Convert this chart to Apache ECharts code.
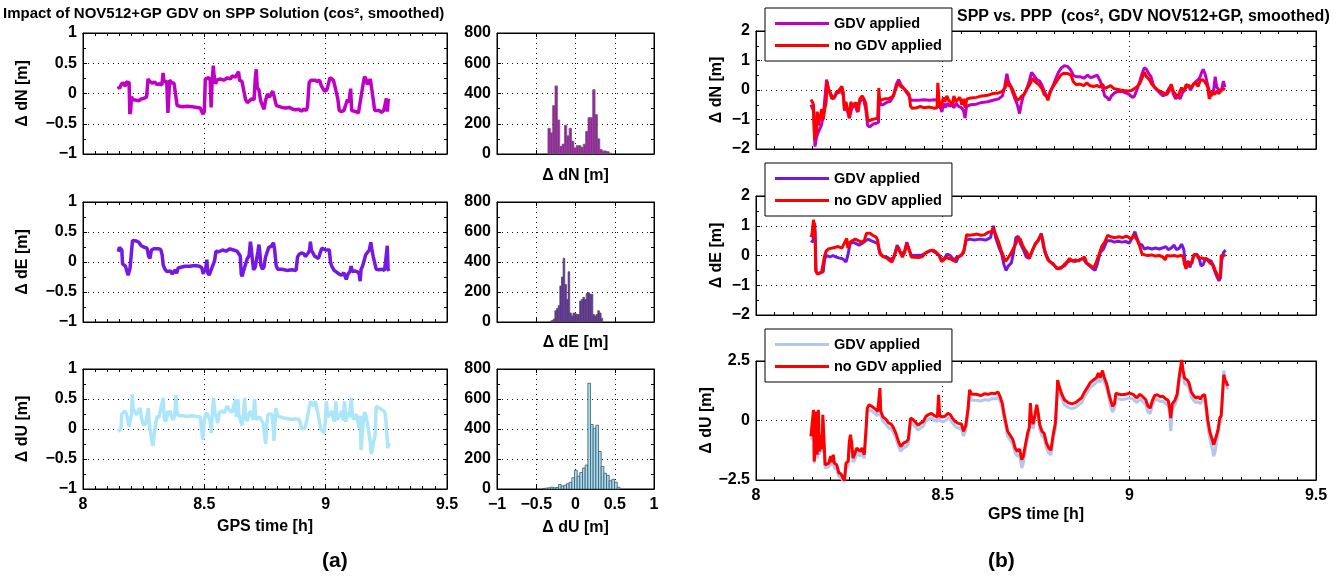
<!DOCTYPE html>
<html>
<head>
<meta charset="utf-8">
<script src="https://cdn.jsdelivr.net/npm/echarts@6/dist/echarts.min.js"></script>
<style>
  html, body { margin: 0; padding: 0; background: #fff; }
  #chart { width: 1343px; height: 580px; }
</style>
</head>
<body>
<div id="chart"></div>
<script>
// ---------------------------------------------------------------------------
// Data: GPS time [h] vs. coordinate difference [m]
// ---------------------------------------------------------------------------

// (a) impact of the GDV correction on the SPP solution
const impactN = [[8.145,0.12],[8.150,0.08],[8.155,0.13],[8.160,0.11],[8.163,0.18],[8.170,0.19],[8.175,0.12],[8.178,0.19],[8.185,0.2],[8.190,0.18],[8.193,-0.34],[8.196,-0.3],[8.200,-0.05],[8.204,-0.1],[8.210,-0.13],[8.220,-0.11],[8.230,-0.12],[8.240,-0.09],[8.250,-0.08],[8.258,-0.05],[8.262,-0.06],[8.268,0.24],[8.275,0.2],[8.285,0.17],[8.295,0.19],[8.304,0.15],[8.315,0.16],[8.325,0.14],[8.330,0.34],[8.334,0.2],[8.340,0.19],[8.345,0.2],[8.350,-0.32],[8.354,-0.3],[8.357,0.22],[8.365,0.18],[8.375,0.17],[8.382,0.18],[8.388,-0.2],[8.395,-0.21],[8.410,-0.22],[8.430,-0.21],[8.450,-0.22],[8.470,-0.23],[8.483,-0.24],[8.490,-0.26],[8.494,-0.34],[8.497,-0.37],[8.500,-0.3],[8.504,0.24],[8.512,0.22],[8.518,0.26],[8.524,0.22],[8.528,-0.23],[8.532,0.2],[8.537,0.46],[8.540,0.3],[8.546,0.16],[8.552,0.22],[8.565,0.24],[8.580,0.22],[8.595,0.26],[8.608,0.24],[8.615,0.29],[8.628,0.27],[8.636,0.26],[8.641,0.36],[8.645,0.22],[8.655,0.2],[8.663,0.18],[8.670,-0.1],[8.677,-0.15],[8.685,-0.16],[8.695,-0.09],[8.705,-0.1],[8.710,0.25],[8.714,0.4],[8.718,0.1],[8.725,0.06],[8.732,-0.12],[8.740,-0.13],[8.746,-0.26],[8.752,-0.12],[8.760,-0.01],[8.768,-0.06],[8.775,-0.07],[8.782,0.04],[8.790,0.03],[8.797,-0.2],[8.805,-0.22],[8.820,-0.23],[8.835,-0.24],[8.850,-0.23],[8.865,-0.26],[8.875,-0.27],[8.890,-0.26],[8.900,-0.29],[8.910,-0.26],[8.920,-0.28],[8.925,-0.22],[8.932,0.18],[8.940,0.22],[8.955,0.22],[8.965,0.2],[8.975,0.22],[8.982,0.13],[8.988,0.1],[8.995,0.04],[9.005,0.06],[9.012,0.03],[9.018,0.26],[9.025,0.25],[9.032,0.22],[9.038,0.2],[9.044,0.02],[9.050,-0.09],[9.056,-0.28],[9.065,-0.3],[9.075,-0.28],[9.083,-0.27],[9.090,-0.1],[9.096,-0.15],[9.103,0.08],[9.107,-0.28],[9.115,-0.31],[9.125,-0.3],[9.135,-0.32],[9.140,-0.3],[9.146,-0.05],[9.152,0.1],[9.160,0.28],[9.166,0.24],[9.172,0.15],[9.178,0.17],[9.184,0.24],[9.190,0.22],[9.196,-0.1],[9.202,-0.28],[9.210,-0.3],[9.220,-0.28],[9.230,-0.31],[9.240,-0.28],[9.247,-0.3],[9.250,-0.08],[9.254,-0.3],[9.258,-0.1],[9.262,-0.12]];

const impactE = [[8.145,0.17],[8.150,0.24],[8.155,0.22],[8.160,0.2],[8.163,-0.03],[8.168,-0.06],[8.175,-0.07],[8.182,-0.08],[8.186,-0.22],[8.190,-0.2],[8.194,-0.1],[8.200,-0.09],[8.204,0.36],[8.210,0.37],[8.220,0.35],[8.230,0.33],[8.240,0.27],[8.250,0.25],[8.258,0.28],[8.264,0.23],[8.270,0.1],[8.276,0.06],[8.282,0.2],[8.292,0.22],[8.300,0.2],[8.310,0.22],[8.320,0.21],[8.326,0.12],[8.331,-0.06],[8.338,-0.12],[8.345,-0.16],[8.352,-0.18],[8.360,-0.15],[8.368,-0.2],[8.374,-0.22],[8.380,-0.13],[8.386,-0.19],[8.392,-0.1],[8.400,-0.08],[8.420,-0.07],[8.440,-0.07],[8.460,-0.06],[8.480,-0.07],[8.490,-0.1],[8.496,-0.2],[8.500,-0.12],[8.505,-0.16],[8.510,0.04],[8.514,-0.18],[8.520,-0.22],[8.528,-0.13],[8.536,-0.14],[8.542,0.02],[8.548,0.18],[8.560,0.17],[8.575,0.2],[8.590,0.18],[8.605,0.22],[8.620,0.2],[8.635,0.18],[8.642,0.17],[8.648,0.1],[8.652,-0.2],[8.656,-0.24],[8.662,-0.14],[8.670,-0.12],[8.677,0.06],[8.684,0.1],[8.690,0.34],[8.694,0.2],[8.698,0.04],[8.703,-0.13],[8.710,-0.08],[8.716,-0.06],[8.721,0.18],[8.725,0.29],[8.729,0.15],[8.733,-0.06],[8.740,-0.12],[8.746,-0.08],[8.752,0.08],[8.758,0.1],[8.765,0.24],[8.775,0.26],[8.785,0.32],[8.790,0.2],[8.796,-0.06],[8.802,-0.12],[8.805,-0.13],[8.820,-0.12],[8.840,-0.14],[8.860,-0.13],[8.878,-0.14],[8.884,0.08],[8.891,0.13],[8.900,0.15],[8.910,0.14],[8.916,0.09],[8.922,0.1],[8.928,0.15],[8.934,0.2],[8.937,0.34],[8.941,0.2],[8.948,0.22],[8.954,0.1],[8.962,0.08],[8.970,0.06],[8.978,0.09],[8.984,0.23],[8.992,0.22],[9.000,0.2],[9.008,0.22],[9.015,0.2],[9.020,0.0],[9.025,-0.07],[9.035,-0.14],[9.045,-0.17],[9.055,-0.2],[9.065,-0.22],[9.075,-0.18],[9.085,-0.29],[9.092,-0.2],[9.100,-0.16],[9.105,-0.07],[9.110,-0.16],[9.120,-0.15],[9.130,-0.16],[9.138,-0.2],[9.142,-0.32],[9.146,-0.12],[9.152,-0.07],[9.160,-0.04],[9.165,0.12],[9.172,0.12],[9.180,0.2],[9.186,0.33],[9.190,0.22],[9.196,0.09],[9.202,0.08],[9.208,-0.12],[9.220,-0.13],[9.232,-0.12],[9.242,-0.14],[9.246,-0.03],[9.250,-0.02],[9.254,0.27],[9.257,-0.12],[9.261,-0.15]];

const impactU = [[8.145,-0.04],[8.152,-0.03],[8.156,0.0],[8.160,0.25],[8.166,0.28],[8.173,0.3],[8.180,0.24],[8.186,0.23],[8.190,0.04],[8.194,0.12],[8.200,0.25],[8.203,0.58],[8.206,0.35],[8.212,0.3],[8.220,0.24],[8.228,0.26],[8.235,0.35],[8.240,0.22],[8.246,0.1],[8.252,0.06],[8.258,0.1],[8.264,0.2],[8.269,0.35],[8.273,0.1],[8.278,-0.05],[8.283,-0.18],[8.288,-0.28],[8.293,-0.1],[8.300,0.1],[8.306,0.22],[8.312,0.18],[8.318,0.3],[8.326,0.28],[8.331,0.52],[8.334,0.2],[8.340,0.12],[8.346,0.2],[8.350,0.3],[8.355,0.25],[8.360,0.3],[8.365,0.2],[8.372,0.15],[8.378,0.22],[8.383,0.57],[8.387,0.3],[8.394,0.22],[8.410,0.22],[8.430,0.21],[8.450,0.22],[8.470,0.21],[8.483,0.2],[8.490,0.18],[8.494,-0.18],[8.498,0.05],[8.503,0.22],[8.510,0.27],[8.518,0.28],[8.524,0.14],[8.528,-0.07],[8.532,0.2],[8.538,0.52],[8.542,0.3],[8.548,0.22],[8.555,0.1],[8.562,0.28],[8.572,0.3],[8.582,0.27],[8.594,0.38],[8.605,0.3],[8.615,0.28],[8.622,0.25],[8.628,0.49],[8.632,0.2],[8.638,0.5],[8.642,0.25],[8.648,0.16],[8.655,0.06],[8.660,0.2],[8.666,0.52],[8.670,0.2],[8.677,0.13],[8.684,0.25],[8.690,0.3],[8.696,0.22],[8.702,0.15],[8.707,0.5],[8.712,0.16],[8.720,0.14],[8.728,0.2],[8.735,0.15],[8.742,0.1],[8.748,-0.1],[8.753,-0.25],[8.757,0.07],[8.762,0.24],[8.770,0.22],[8.778,0.25],[8.784,0.05],[8.787,-0.2],[8.791,0.1],[8.795,0.35],[8.802,0.22],[8.815,0.2],[8.830,0.18],[8.845,0.17],[8.860,0.16],[8.875,0.17],[8.890,0.16],[8.896,0.1],[8.900,0.0],[8.906,-0.02],[8.914,0.02],[8.920,0.1],[8.926,0.1],[8.932,0.35],[8.938,0.46],[8.946,0.44],[8.952,0.38],[8.958,0.46],[8.966,0.3],[8.974,0.13],[8.980,0.0],[8.988,-0.02],[8.994,-0.07],[8.998,0.1],[9.003,0.46],[9.008,0.2],[9.016,0.24],[9.024,0.3],[9.030,0.2],[9.036,0.12],[9.042,0.46],[9.047,0.15],[9.054,0.2],[9.060,0.24],[9.066,0.3],[9.072,0.14],[9.078,0.46],[9.083,0.12],[9.090,0.28],[9.098,0.2],[9.106,0.52],[9.110,0.2],[9.118,0.16],[9.126,0.25],[9.133,0.28],[9.138,0.02],[9.142,0.22],[9.146,-0.35],[9.150,-0.38],[9.154,0.1],[9.160,0.28],[9.166,0.22],[9.172,0.1],[9.178,-0.05],[9.183,-0.2],[9.188,-0.42],[9.192,-0.35],[9.198,-0.2],[9.204,-0.1],[9.208,0.38],[9.213,0.4],[9.220,0.35],[9.230,0.33],[9.238,0.3],[9.244,0.28],[9.248,0.15],[9.252,0.16],[9.256,-0.32],[9.260,-0.25],[9.263,-0.28]];

// Histograms of the differences: first bin edge, bin width, counts per bin
const histNStart = -0.351, histNWidth = 0.03;
const histNCounts = [170,140,320,450,225,50,65,190,120,170,85,40,55,55,45,65,150,240,240,425,260,100,30,20,20,15,5];
const histEStart = -0.3255, histEWidth = 0.021;
const histECounts = [5,10,20,75,90,110,240,300,425,250,150,335,60,40,60,55,50,50,140,150,165,150,190,195,185,185,50,40,50,75,60,25];
const histUStart = -0.4205, histUWidth = 0.034;
const histUCounts = [4,6,8,12,8,10,30,20,25,35,45,75,125,85,110,140,160,705,430,405,425,250,150,105,90,55,65,45,12];

// (b) SPP vs. PPP, with and without GDV
const pppN_gdv = [[8.147,-0.5],[8.151,-0.55],[8.154,-0.7],[8.158,-1.92],[8.162,-1.6],[8.166,-1.45],[8.170,-1.5],[8.175,-1.2],[8.180,-0.9],[8.185,-0.85],[8.189,0.35],[8.194,0.05],[8.198,0.0],[8.203,-0.2],[8.208,-0.3],[8.214,-0.15],[8.220,-0.05],[8.226,0.05],[8.230,0.1],[8.234,-0.2],[8.237,-0.7],[8.242,-0.55],[8.247,-0.6],[8.250,-0.95],[8.255,-0.7],[8.260,-0.5],[8.266,-0.55],[8.272,-0.75],[8.276,-0.45],[8.283,-0.3],[8.289,-0.35],[8.294,-0.65],[8.299,-1.2],[8.305,-1.25],[8.314,-1.15],[8.322,-1.13],[8.328,-1.1],[8.330,-0.2],[8.334,-0.5],[8.340,-0.5],[8.350,-0.42],[8.360,-0.38],[8.368,-0.2],[8.376,0.2],[8.382,0.35],[8.388,0.18],[8.396,0.05],[8.404,-0.1],[8.410,-0.2],[8.415,-0.35],[8.420,-0.38],[8.435,-0.35],[8.450,-0.33],[8.465,-0.35],[8.478,-0.33],[8.486,-0.35],[8.490,-0.3],[8.494,-0.6],[8.498,-0.75],[8.502,-0.45],[8.507,-0.6],[8.512,-0.45],[8.518,-0.55],[8.524,-0.5],[8.530,-0.6],[8.536,-0.45],[8.542,-0.55],[8.550,-0.6],[8.556,-0.7],[8.560,-0.95],[8.564,-0.55],[8.575,-0.5],[8.590,-0.48],[8.605,-0.42],[8.620,-0.4],[8.635,-0.35],[8.650,-0.3],[8.660,-0.2],[8.666,0.1],[8.672,0.55],[8.676,0.3],[8.682,0.12],[8.688,-0.1],[8.694,-0.3],[8.700,-0.5],[8.706,-0.8],[8.710,-0.5],[8.716,-0.2],[8.724,0.0],[8.732,0.3],[8.738,0.6],[8.744,0.5],[8.752,0.35],[8.760,0.3],[8.768,0.1],[8.774,-0.1],[8.780,-0.25],[8.786,-0.15],[8.794,0.1],[8.802,0.35],[8.810,0.6],[8.818,0.75],[8.826,0.82],[8.834,0.8],[8.842,0.7],[8.850,0.5],[8.858,0.45],[8.868,0.45],[8.878,0.4],[8.888,0.5],[8.896,0.42],[8.904,0.45],[8.914,0.5],[8.922,0.3],[8.928,0.1],[8.934,-0.2],[8.940,-0.25],[8.946,-0.35],[8.952,-0.2],[8.960,-0.1],[8.970,-0.05],[8.980,-0.05],[8.990,-0.1],[9.000,-0.15],[9.008,-0.25],[9.014,-0.2],[9.020,0.0],[9.028,0.3],[9.034,0.55],[9.040,0.75],[9.046,0.7],[9.052,0.55],[9.058,0.45],[9.066,0.1],[9.074,0.0],[9.082,-0.1],[9.090,-0.2],[9.098,-0.15],[9.106,0.05],[9.112,0.15],[9.118,-0.15],[9.124,-0.3],[9.130,-0.2],[9.136,-0.3],[9.142,-0.1],[9.148,0.0],[9.156,0.18],[9.164,0.0],[9.172,0.2],[9.180,0.3],[9.188,0.4],[9.194,0.6],[9.198,0.7],[9.204,0.5],[9.210,0.15],[9.216,-0.1],[9.220,-0.2],[9.226,0.0],[9.230,0.45],[9.234,0.1],[9.240,0.0],[9.246,-0.05],[9.252,0.3],[9.256,0.1]];

const pppN_raw = [[8.147,-0.33],[8.151,-0.4],[8.154,-0.5],[8.157,-1.7],[8.160,-1.35],[8.162,-1.5],[8.164,-0.73],[8.167,-1.2],[8.171,-0.95],[8.176,-0.65],[8.180,-1.0],[8.184,-0.67],[8.188,-0.4],[8.190,0.3],[8.194,0.0],[8.198,-0.1],[8.203,-0.3],[8.208,-0.33],[8.212,-0.2],[8.216,-0.05],[8.222,-0.1],[8.226,0.05],[8.230,0.12],[8.234,-0.1],[8.237,-0.67],[8.241,-0.4],[8.246,-0.45],[8.250,-0.95],[8.254,-0.4],[8.259,-0.6],[8.264,-0.45],[8.270,-0.45],[8.274,-0.73],[8.278,-0.3],[8.284,-0.2],[8.289,-0.3],[8.294,-0.45],[8.299,-0.98],[8.303,-1.05],[8.310,-1.0],[8.318,-0.98],[8.326,-0.95],[8.329,0.07],[8.331,-0.35],[8.336,-0.4],[8.345,-0.3],[8.355,-0.3],[8.362,-0.25],[8.368,-0.2],[8.376,0.1],[8.382,0.24],[8.388,0.12],[8.396,0.05],[8.404,-0.05],[8.410,-0.15],[8.414,-0.55],[8.418,-0.62],[8.430,-0.6],[8.440,-0.56],[8.450,-0.6],[8.465,-0.58],[8.478,-0.62],[8.485,-0.6],[8.487,0.24],[8.490,-0.3],[8.493,-0.6],[8.497,-0.5],[8.502,-0.25],[8.506,-0.4],[8.511,-0.2],[8.516,-0.35],[8.521,-0.3],[8.526,-0.5],[8.530,-0.2],[8.535,-0.4],[8.540,-0.38],[8.546,-0.25],[8.551,-0.5],[8.556,-0.3],[8.560,-0.6],[8.565,-0.3],[8.575,-0.27],[8.590,-0.25],[8.605,-0.2],[8.620,-0.18],[8.635,-0.12],[8.650,-0.1],[8.660,-0.05],[8.668,0.1],[8.672,0.35],[8.676,0.15],[8.682,0.15],[8.688,0.0],[8.694,-0.2],[8.700,-0.35],[8.706,-0.3],[8.712,-0.2],[8.718,-0.15],[8.726,0.05],[8.734,0.2],[8.740,0.4],[8.746,0.3],[8.754,0.22],[8.760,0.15],[8.766,0.05],[8.772,-0.15],[8.778,-0.22],[8.782,-0.35],[8.788,-0.05],[8.795,0.1],[8.800,0.2],[8.808,0.35],[8.816,0.5],[8.824,0.57],[8.834,0.56],[8.844,0.5],[8.850,0.28],[8.858,0.18],[8.868,0.2],[8.878,0.15],[8.886,0.24],[8.894,0.15],[8.904,0.12],[8.914,0.15],[8.922,0.1],[8.928,0.2],[8.934,0.05],[8.942,0.1],[8.950,0.15],[8.958,0.05],[8.966,0.03],[8.976,0.0],[8.986,-0.02],[8.996,-0.03],[9.006,-0.02],[9.014,0.05],[9.020,0.1],[9.028,0.22],[9.034,0.4],[9.040,0.6],[9.046,0.45],[9.052,0.38],[9.060,0.2],[9.068,0.1],[9.076,0.0],[9.084,-0.05],[9.092,-0.1],[9.100,-0.16],[9.106,-0.05],[9.112,0.2],[9.118,-0.05],[9.124,-0.15],[9.128,-0.27],[9.134,-0.1],[9.140,0.08],[9.146,-0.05],[9.152,0.18],[9.160,0.15],[9.166,0.08],[9.172,0.2],[9.178,0.25],[9.184,0.12],[9.190,0.32],[9.196,0.35],[9.202,0.28],[9.206,0.2],[9.210,0.1],[9.214,-0.3],[9.218,-0.25],[9.222,-0.05],[9.228,-0.15],[9.234,-0.05],[9.240,-0.12],[9.246,0.0],[9.252,0.05],[9.256,0.0]];

const pppE_gdv = [[8.147,0.5],[8.150,0.55],[8.153,0.45],[8.155,1.0],[8.157,1.1],[8.159,0.5],[8.161,-0.55],[8.166,-0.62],[8.172,-0.58],[8.180,-0.55],[8.184,-0.1],[8.190,0.0],[8.198,-0.05],[8.206,0.0],[8.214,-0.05],[8.222,-0.08],[8.230,-0.1],[8.236,-0.15],[8.241,-0.22],[8.246,0.0],[8.252,0.4],[8.260,0.45],[8.268,0.4],[8.276,0.35],[8.286,0.42],[8.294,0.5],[8.300,0.55],[8.308,0.5],[8.318,0.45],[8.326,0.4],[8.332,0.05],[8.340,-0.02],[8.350,-0.05],[8.360,-0.12],[8.368,-0.08],[8.374,0.15],[8.378,0.35],[8.384,0.15],[8.392,0.05],[8.398,0.15],[8.404,0.45],[8.410,0.2],[8.416,0.0],[8.430,0.0],[8.445,0.02],[8.458,0.1],[8.470,0.18],[8.480,0.1],[8.490,0.02],[8.497,-0.15],[8.504,-0.1],[8.512,0.05],[8.520,0.0],[8.530,-0.15],[8.536,-0.22],[8.542,-0.05],[8.550,0.0],[8.556,0.1],[8.562,0.5],[8.572,0.55],[8.585,0.52],[8.600,0.55],[8.615,0.52],[8.628,0.6],[8.636,1.0],[8.642,0.6],[8.650,0.3],[8.658,0.05],[8.664,-0.3],[8.670,-0.5],[8.676,-0.35],[8.684,-0.25],[8.690,0.1],[8.696,0.6],[8.702,0.65],[8.708,0.4],[8.716,0.2],[8.724,-0.05],[8.732,-0.1],[8.740,0.15],[8.748,0.4],[8.756,0.5],[8.764,0.75],[8.770,0.3],[8.778,0.0],[8.786,-0.2],[8.796,-0.28],[8.806,-0.45],[8.816,-0.4],[8.826,-0.35],[8.836,-0.2],[8.846,-0.16],[8.856,-0.2],[8.866,-0.15],[8.876,-0.1],[8.884,-0.25],[8.892,-0.33],[8.900,-0.42],[8.908,-0.5],[8.914,-0.3],[8.922,0.1],[8.930,0.2],[8.940,0.5],[8.950,0.5],[8.960,0.45],[8.970,0.48],[8.980,0.45],[8.990,0.47],[9.000,0.42],[9.008,0.6],[9.015,0.8],[9.020,0.6],[9.026,0.4],[9.034,0.35],[9.040,0.22],[9.050,0.26],[9.060,0.22],[9.070,0.25],[9.080,0.22],[9.090,0.26],[9.098,0.3],[9.104,0.2],[9.112,0.25],[9.120,0.35],[9.126,0.2],[9.134,0.25],[9.140,0.38],[9.146,0.2],[9.150,-0.3],[9.154,-0.35],[9.158,-0.2],[9.162,-0.4],[9.166,-0.25],[9.172,0.0],[9.180,0.05],[9.186,-0.05],[9.192,-0.35],[9.198,-0.3],[9.204,-0.1],[9.212,-0.15],[9.220,-0.2],[9.228,-0.5],[9.234,-0.7],[9.240,-0.85],[9.244,-0.75],[9.247,-0.2],[9.252,0.1],[9.258,0.18]];

const pppE_raw = [[8.147,0.62],[8.150,0.7],[8.153,0.68],[8.154,1.2],[8.157,1.25],[8.158,0.8],[8.160,-0.5],[8.164,-0.62],[8.170,-0.6],[8.176,-0.55],[8.180,-0.5],[8.183,-0.05],[8.188,0.15],[8.194,0.22],[8.200,0.24],[8.210,0.27],[8.220,0.3],[8.230,0.25],[8.234,0.35],[8.240,0.5],[8.243,0.57],[8.246,0.25],[8.252,0.45],[8.258,0.5],[8.266,0.55],[8.274,0.5],[8.282,0.45],[8.290,0.5],[8.296,0.75],[8.300,0.8],[8.305,0.75],[8.312,0.68],[8.322,0.62],[8.326,0.5],[8.330,0.2],[8.334,0.05],[8.340,-0.04],[8.350,-0.08],[8.356,-0.15],[8.364,-0.22],[8.370,-0.05],[8.376,0.2],[8.382,0.28],[8.386,0.1],[8.392,-0.05],[8.398,0.1],[8.404,0.4],[8.410,0.2],[8.416,-0.05],[8.425,-0.06],[8.435,-0.07],[8.445,-0.04],[8.455,0.1],[8.465,0.16],[8.475,0.18],[8.482,0.12],[8.490,0.0],[8.497,-0.2],[8.503,-0.15],[8.510,-0.05],[8.516,-0.1],[8.522,-0.12],[8.530,-0.18],[8.538,-0.05],[8.546,-0.02],[8.552,0.05],[8.558,0.2],[8.564,0.7],[8.572,0.68],[8.582,0.7],[8.592,0.72],[8.602,0.68],[8.612,0.7],[8.622,0.78],[8.630,0.8],[8.636,0.92],[8.642,0.7],[8.650,0.45],[8.656,0.2],[8.662,0.0],[8.668,-0.2],[8.674,-0.1],[8.682,0.05],[8.690,0.25],[8.696,0.4],[8.702,0.6],[8.708,0.55],[8.714,0.35],[8.720,0.2],[8.726,0.1],[8.732,-0.1],[8.736,0.05],[8.745,0.3],[8.752,0.45],[8.760,0.6],[8.764,0.7],[8.768,0.55],[8.774,0.1],[8.782,-0.15],[8.792,-0.25],[8.800,-0.35],[8.810,-0.45],[8.818,-0.42],[8.826,-0.3],[8.834,-0.2],[8.840,-0.1],[8.848,-0.2],[8.856,-0.15],[8.864,-0.18],[8.872,-0.12],[8.880,-0.05],[8.886,-0.25],[8.892,-0.3],[8.900,-0.38],[8.906,-0.4],[8.912,-0.2],[8.918,0.0],[8.926,0.3],[8.934,0.45],[8.942,0.68],[8.952,0.62],[8.962,0.6],[8.972,0.63],[8.982,0.6],[8.992,0.65],[9.000,0.6],[9.006,0.55],[9.012,0.7],[9.016,0.75],[9.022,0.5],[9.028,0.3],[9.034,0.05],[9.042,0.02],[9.050,0.0],[9.060,0.02],[9.070,-0.02],[9.080,0.0],[9.090,-0.05],[9.096,-0.15],[9.100,0.0],[9.110,-0.02],[9.120,0.0],[9.130,-0.03],[9.138,0.0],[9.144,-0.02],[9.148,-0.3],[9.152,-0.45],[9.156,-0.2],[9.162,-0.27],[9.168,-0.25],[9.173,0.03],[9.180,0.02],[9.186,-0.1],[9.194,-0.08],[9.200,-0.12],[9.206,-0.1],[9.212,-0.2],[9.218,-0.27],[9.224,-0.3],[9.230,-0.5],[9.236,-0.65],[9.241,-0.78],[9.244,-0.7],[9.246,0.0],[9.252,0.0],[9.258,0.02]];

const pppU_gdv = [[8.147,-0.7],[8.152,-0.8],[8.154,0.3],[8.156,-1.8],[8.158,-1.35],[8.161,0.2],[8.164,-1.6],[8.167,0.25],[8.170,-1.45],[8.173,-0.8],[8.177,-1.35],[8.179,0.05],[8.182,-0.95],[8.185,-2.0],[8.190,-2.05],[8.195,-1.95],[8.200,-1.7],[8.204,-1.9],[8.207,-1.6],[8.210,-2.0],[8.216,-2.05],[8.222,-2.35],[8.228,-2.4],[8.234,-2.55],[8.237,-2.6],[8.241,-2.0],[8.247,-1.9],[8.250,-1.05],[8.253,-0.8],[8.256,-1.1],[8.260,-1.75],[8.265,-1.65],[8.270,-1.35],[8.275,-1.3],[8.279,-1.5],[8.284,-1.35],[8.290,-1.6],[8.295,-0.5],[8.298,0.35],[8.303,0.45],[8.310,0.4],[8.318,0.3],[8.326,0.2],[8.330,0.2],[8.332,1.1],[8.334,0.2],[8.340,-0.05],[8.348,-0.15],[8.355,-0.3],[8.362,-0.35],[8.368,-0.5],[8.375,-0.75],[8.382,-1.1],[8.388,-1.3],[8.395,-1.15],[8.402,-1.1],[8.408,-1.0],[8.414,-0.1],[8.420,-0.15],[8.426,-0.25],[8.434,-0.4],[8.442,-0.3],[8.448,-0.25],[8.455,-0.03],[8.462,0.05],[8.470,0.1],[8.478,0.0],[8.486,-0.05],[8.489,0.85],[8.492,0.0],[8.498,-0.05],[8.506,-0.02],[8.514,0.1],[8.520,0.05],[8.526,-0.1],[8.534,-0.25],[8.542,-0.32],[8.550,-0.35],[8.556,-0.65],[8.562,-0.4],[8.568,0.3],[8.572,1.05],[8.578,0.85],[8.590,0.85],[8.602,0.82],[8.612,0.88],[8.622,0.85],[8.632,0.92],[8.640,0.9],[8.648,0.98],[8.654,0.8],[8.660,0.5],[8.664,0.1],[8.668,-0.2],[8.674,-0.65],[8.682,-0.85],[8.688,-1.0],[8.694,-1.35],[8.700,-1.5],[8.706,-1.45],[8.712,-2.0],[8.716,-1.8],[8.722,-1.2],[8.728,-0.7],[8.732,-0.5],[8.735,0.5],[8.738,-0.1],[8.742,-0.35],[8.748,0.1],[8.752,0.45],[8.756,0.1],[8.760,-0.38],[8.766,-0.65],[8.772,-0.75],[8.778,-1.15],[8.784,-1.35],[8.790,-1.45],[8.796,-0.8],[8.802,-0.3],[8.806,0.8],[8.808,1.5],[8.812,1.25],[8.818,0.95],[8.826,0.67],[8.836,0.55],[8.846,0.5],[8.856,0.55],[8.864,0.65],[8.872,0.75],[8.880,1.0],[8.888,1.2],[8.896,1.4],[8.904,1.5],[8.912,1.6],[8.917,1.8],[8.922,1.6],[8.928,1.9],[8.932,1.65],[8.936,1.6],[8.940,1.3],[8.945,0.95],[8.950,0.6],[8.955,0.35],[8.960,0.5],[8.964,0.95],[8.972,0.9],[8.980,0.88],[8.990,0.9],[9.000,0.95],[9.010,0.9],[9.020,0.75],[9.028,0.9],[9.036,0.8],[9.044,0.65],[9.050,0.35],[9.056,0.3],[9.062,0.65],[9.068,0.85],[9.075,0.88],[9.083,0.8],[9.090,0.82],[9.098,0.7],[9.104,0.62],[9.108,0.3],[9.111,-0.45],[9.115,0.5],[9.122,0.65],[9.128,0.9],[9.133,1.55],[9.138,2.05],[9.140,2.25],[9.144,1.85],[9.148,1.55],[9.155,1.5],[9.160,1.35],[9.166,1.0],[9.172,0.85],[9.178,0.75],[9.184,0.8],[9.190,0.7],[9.196,0.85],[9.202,0.88],[9.206,0.35],[9.210,-0.25],[9.216,-0.8],[9.222,-1.15],[9.226,-1.5],[9.230,-1.3],[9.234,-0.85],[9.238,-0.55],[9.242,-0.15],[9.246,0.0],[9.250,0.0],[9.253,2.1],[9.256,1.85],[9.260,1.5],[9.264,1.3]];

const pppU_raw = [[8.147,-0.67],[8.152,-0.7],[8.154,0.45],[8.156,-1.72],[8.158,-1.2],[8.161,0.38],[8.164,-1.44],[8.167,0.45],[8.170,-1.3],[8.173,-0.6],[8.177,-1.2],[8.179,0.24],[8.182,-0.75],[8.185,-1.86],[8.190,-1.85],[8.195,-1.8],[8.200,-1.5],[8.204,-1.75],[8.207,-1.44],[8.210,-1.8],[8.216,-1.86],[8.222,-2.2],[8.228,-2.25],[8.234,-2.45],[8.237,-2.55],[8.241,-1.8],[8.247,-1.7],[8.250,-0.88],[8.253,-0.6],[8.256,-0.9],[8.260,-1.58],[8.265,-1.5],[8.270,-1.16],[8.275,-1.1],[8.279,-1.3],[8.284,-1.15],[8.290,-1.44],[8.295,-0.3],[8.298,0.52],[8.303,0.66],[8.310,0.6],[8.318,0.5],[8.326,0.38],[8.330,0.4],[8.332,1.36],[8.334,0.4],[8.340,0.15],[8.348,0.05],[8.355,-0.1],[8.362,-0.15],[8.368,-0.3],[8.375,-0.55],[8.382,-0.9],[8.388,-1.1],[8.395,-0.95],[8.402,-0.9],[8.408,-0.8],[8.414,0.1],[8.420,0.05],[8.426,-0.05],[8.434,-0.2],[8.442,-0.1],[8.448,-0.05],[8.455,0.17],[8.462,0.25],[8.470,0.3],[8.478,0.2],[8.486,0.15],[8.489,1.08],[8.492,0.2],[8.498,0.15],[8.506,0.18],[8.514,0.3],[8.520,0.25],[8.526,0.1],[8.534,-0.05],[8.542,-0.12],[8.550,-0.15],[8.556,-0.45],[8.562,-0.2],[8.568,0.5],[8.572,1.29],[8.578,1.1],[8.590,1.1],[8.602,1.05],[8.612,1.12],[8.622,1.1],[8.632,1.15],[8.640,1.12],[8.648,1.2],[8.654,1.0],[8.660,0.7],[8.664,0.3],[8.668,0.0],[8.674,-0.45],[8.682,-0.65],[8.688,-0.8],[8.694,-1.15],[8.700,-1.3],[8.706,-1.2],[8.712,-1.65],[8.716,-1.5],[8.722,-1.0],[8.728,-0.5],[8.732,-0.3],[8.735,0.73],[8.738,0.1],[8.742,-0.15],[8.748,0.3],[8.752,0.66],[8.756,0.3],[8.760,-0.18],[8.766,-0.45],[8.772,-0.55],[8.778,-0.95],[8.784,-1.15],[8.790,-1.25],[8.796,-0.6],[8.802,-0.1],[8.806,1.0],[8.808,1.7],[8.812,1.45],[8.818,1.15],[8.826,0.87],[8.836,0.75],[8.846,0.7],[8.856,0.75],[8.864,0.85],[8.872,0.95],[8.880,1.2],[8.888,1.4],[8.896,1.6],[8.904,1.7],[8.912,1.8],[8.917,1.99],[8.922,1.8],[8.928,2.1],[8.932,1.85],[8.936,1.8],[8.940,1.5],[8.945,1.15],[8.950,0.85],[8.955,0.6],[8.960,0.7],[8.964,1.15],[8.972,1.1],[8.980,1.08],[8.990,1.1],[9.000,1.15],[9.010,1.1],[9.020,0.95],[9.028,1.1],[9.036,1.0],[9.044,0.87],[9.050,0.6],[9.056,0.52],[9.062,0.85],[9.068,1.05],[9.075,1.08],[9.083,1.0],[9.090,1.02],[9.098,0.9],[9.104,0.85],[9.108,0.52],[9.111,0.1],[9.115,0.7],[9.122,0.85],[9.128,1.1],[9.133,1.78],[9.138,2.3],[9.140,2.55],[9.144,2.1],[9.148,1.78],[9.155,1.7],[9.160,1.57],[9.166,1.2],[9.172,1.05],[9.178,0.94],[9.184,1.0],[9.190,0.9],[9.196,1.05],[9.202,1.08],[9.206,0.6],[9.210,0.03],[9.216,-0.5],[9.222,-0.8],[9.226,-1.02],[9.230,-0.95],[9.234,-0.6],[9.238,-0.35],[9.242,0.1],[9.246,0.2],[9.250,0.2],[9.253,1.92],[9.256,1.7],[9.260,1.6],[9.264,1.45]];

// ---------------------------------------------------------------------------
// Layout and styling
// ---------------------------------------------------------------------------
const FONT = "'Liberation Sans', Arial, Helvetica, sans-serif";
const COL_N = '#c000c4';
const COL_E = '#7418e2';
const COL_U_LEFT = '#ace6f8';
const COL_U_RIGHT = '#b2c6f4';
const COL_RAW = '#ff0000';

const textBold = { color: '#000', fontFamily: FONT, fontWeight: 'bold', fontSize: 16 };
const tickLabel = v => (v < 0 ? '\u2212' + String(-v) : String(v));

const grids = [], xAxes = [], yAxes = [], series = [];

function axisBase(g, s) {
  return {
    type: 'value', gridIndex: g, min: s.min, max: s.max, interval: s.interval,
    axisLine: { show: true, onZero: false, lineStyle: { color: '#000', width: 1 } },
    axisTick: { show: true, inside: true, length: 4, lineStyle: { color: '#000', width: 1 } },
    minorTick: { show: !!s.minor, splitNumber: s.minor || 5, length: 3, lineStyle: { color: '#000', width: 1 } },
    minorSplitLine: { show: false }
  };
}

function panel(box, xs, ys) {
  const g = grids.length;
  grids.push({ left: box[0], top: box[1], width: box[2], height: box[3], show: true,
               borderColor: '#000', borderWidth: 1, backgroundColor: '#fff' });
  const grid = { show: true, lineStyle: { color: '#111', type: [1, 4], width: 1 } };
  const xi = xAxes.length;
  xAxes.push(Object.assign(axisBase(g, xs), {
    position: 'bottom',
    axisLabel: Object.assign({ show: !!xs.labels, margin: 8, showMinLabel: true, showMaxLabel: true, formatter: tickLabel }, textBold),
    splitLine: grid,
    name: xs.name || '', nameLocation: 'middle', nameGap: xs.nameGap || 0, nameTextStyle: textBold
  }));
  xAxes.push(Object.assign(axisBase(g, xs), { position: 'top', axisLabel: { show: false }, splitLine: { show: false } }));
  const yi = yAxes.length;
  yAxes.push(Object.assign(axisBase(g, ys), {
    position: 'left',
    axisLabel: Object.assign({ show: true, margin: 6, showMinLabel: true, showMaxLabel: true, formatter: tickLabel }, textBold),
    splitLine: grid,
    name: ys.name || '', nameLocation: 'middle', nameGap: ys.nameGap || 0, nameTextStyle: textBold
  }));
  yAxes.push(Object.assign(axisBase(g, ys), { position: 'right', axisLabel: { show: false }, splitLine: { show: false } }));
  return { xi, yi };
}

function addLine(p, name, data, color, width) {
  series.push({
    type: 'line', name, xAxisIndex: p.xi, yAxisIndex: p.yi, data,
    showSymbol: false, symbol: 'none', color, itemStyle: { color },
    lineStyle: { color, width }, clip: true, animation: false
  });
}

function addHist(p, start, width, counts, fill, stroke) {
  const data = counts.map((c, i) => [start + i * width, start + (i + 1) * width, c]);
  series.push({
    type: 'custom', xAxisIndex: p.xi, yAxisIndex: p.yi, data,
    encode: { x: [0, 1], y: 2 }, animation: false,
    renderItem: (params, api) => {
      const a = api.coord([api.value(0), api.value(2)]);
      const b = api.coord([api.value(1), 0]);
      return { type: 'rect', shape: { x: a[0], y: a[1], width: b[0] - a[0], height: b[1] - a[1] },
               style: { fill, stroke, lineWidth: 0.8 } };
    }
  });
}

// Axis ranges
const timeAxis = (labels, name, gap) => ({ min: 8, max: 9.5, interval: 0.5, minor: 10, labels, name, nameGap: gap });
const diffAxis = name => ({ min: -1, max: 1, interval: 0.5, minor: 2, name, nameGap: 52 });
const histX = (labels, name, gap) => ({ min: -1, max: 1, interval: 0.5, labels, name, nameGap: gap });
const histY = { min: 0, max: 800, interval: 200, minor: 2 };

// (a) left column: time series, middle column: histograms
const aN = panel([83, 33, 364, 121], timeAxis(false), diffAxis('\u0394 dN [m]'));
const aE = panel([83, 202, 364, 120], timeAxis(false), diffAxis('\u0394 dE [m]'));
const aU = panel([83, 369, 364, 120], timeAxis(true, 'GPS time [h]', 30), diffAxis('\u0394 dU [m]'));
const hN = panel([497, 33, 157, 121], histX(false, '\u0394 dN [m]', 14), histY);
const hE = panel([497, 202, 157, 120], histX(false, '\u0394 dE [m]', 13), histY);
const hU = panel([497, 369, 157, 120], histX(true, '\u0394 dU [m]', 31), histY);

// (b) right column
const bN = panel([756, 31, 560, 118], timeAxis(false), { min: -2, max: 2, interval: 1, minor: 2, name: '\u0394 dN [m]', nameGap: 31 });
const bE = panel([756, 196, 560, 119], timeAxis(false), { min: -2, max: 2, interval: 1, minor: 2, name: '\u0394 dE [m]', nameGap: 31 });
const bU = panel([756, 361, 560, 119], timeAxis(true, 'GPS time [h]', 27), { min: -2.5, max: 2.5, interval: 2.5, name: '\u0394 dU [m]', nameGap: 31 });

addLine(aN, 'impact dN', impactN, COL_N, 3.5);
addLine(aE, 'impact dE', impactE, COL_E, 3.5);
addLine(aU, 'impact dU', impactU, COL_U_LEFT, 3.5);

addHist(hN, histNStart, histNWidth, histNCounts, '#b010b8', '#666');
addHist(hE, histEStart, histEWidth, histECounts, '#6c14d8', '#555');
addHist(hU, histUStart, histUWidth, histUCounts, '#a6def4', '#3e5866');

addLine(bN, 'dN GDV applied', pppN_gdv, COL_N, 3);
addLine(bN, 'dN no GDV applied', pppN_raw, COL_RAW, 3);
addLine(bE, 'dE GDV applied', pppE_gdv, COL_E, 3);
addLine(bE, 'dE no GDV applied', pppE_raw, COL_RAW, 3);
addLine(bU, 'dU GDV applied', pppU_gdv, COL_U_RIGHT, 3);
addLine(bU, 'dU no GDV applied', pppU_raw, COL_RAW, 3);

function legendBox(top, comp) {
  return {
    left: 765, top, orient: 'vertical', icon: 'rect', itemWidth: 54, itemHeight: 3, itemGap: 7,
    data: [comp + ' GDV applied', comp + ' no GDV applied'],
    formatter: name => name.slice(3),
    backgroundColor: '#fff', borderColor: '#000', borderWidth: 1, borderRadius: 0,
    padding: [8, 10, 8, 10], selectedMode: false,
    textStyle: { color: '#000', fontFamily: FONT, fontWeight: 'bold', fontSize: 14.5 }
  };
}

const titleLeft = Object.assign({}, textBold, { fontSize: 15 });
const titleRight = Object.assign({}, textBold, { fontSize: 16 });
const panelTag = Object.assign({}, textBold, { fontSize: 21 });

const option = {
  animation: false,
  backgroundColor: '#fff',
  title: [
    { text: 'Impact of NOV512+GP GDV on SPP Solution (cos\u00b2, smoothed)', left: 3, top: 6, padding: 0, textStyle: titleLeft },
    { text: 'SPP vs. PPP  (cos\u00b2, GDV NOV512+GP, smoothed)', left: 957, top: 9, padding: 0, textStyle: titleRight },
    { text: '(a)', left: 322, top: 551, padding: 0, textStyle: panelTag },
    { text: '(b)', left: 988, top: 551, padding: 0, textStyle: panelTag }
  ],
  legend: [legendBox(8, 'dN'), legendBox(163, 'dE'), legendBox(329, 'dU')],
  grid: grids,
  xAxis: xAxes,
  yAxis: yAxes,
  series
};

const chart = echarts.init(document.getElementById('chart'), null, { renderer: 'canvas' });
chart.setOption(option);
</script>
</body>
</html>
